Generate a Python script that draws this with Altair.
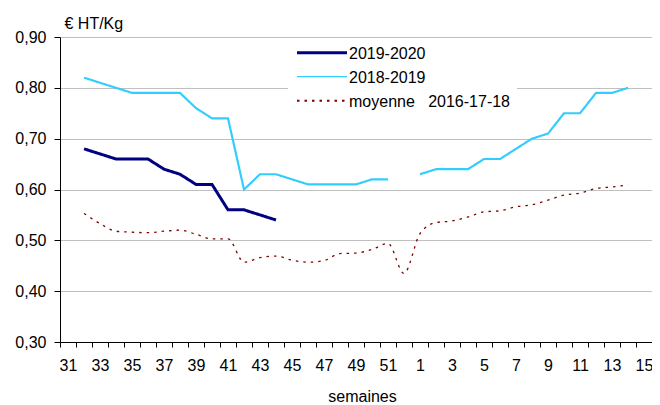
import altair as alt
import pandas as pd

weeks = [str(w) for w in range(31, 53)] + [str(w) for w in range(1, 16)]
labelled_weeks = [str(w) for w in range(31, 53, 2)] + [str(w) for w in range(1, 16, 2)]

series_names = ["2019-2020", "2018-2019", "moyenne\u00a0\u00a0\u00a02016-17-18"]
series_colors = ["#000080", "#33ccff", "#800000"]
series_widths = [3, 1.3, 2]
series_dashes = [[1, 0], [1, 0], [2.5, 5]]

s2019_2020 = [None, 0.68, 0.67, 0.66, 0.66, 0.66, 0.64, 0.63, 0.61, 0.61, 0.56, 0.56, 0.55, 0.54] + [None] * 23
s2018_2019 = [None, 0.82, 0.81, 0.80, 0.79, 0.79, 0.79, 0.79, 0.76, 0.74, 0.74,
              0.60, 0.63, 0.63, 0.62, 0.61, 0.61, 0.61, 0.61, 0.62, 0.62, None,
              0.63, 0.64, 0.64, 0.64, 0.66, 0.66, 0.68, 0.70, 0.71, 0.75, 0.75, 0.79, 0.79, 0.80, None]
moyenne = [None, 0.553, 0.533, 0.518, 0.516, 0.515, 0.518, 0.520, 0.512, 0.503, 0.503,
           0.457, 0.466, 0.469, 0.461, 0.457, 0.460, 0.474, 0.475, 0.482, 0.494, 0.435,
           0.513, 0.535, 0.538, 0.546, 0.556, 0.558, 0.566, 0.570, 0.579, 0.589, 0.593, 0.602, 0.605, 0.609, None]

y_ticks = [0.3, 0.4, 0.5, 0.6, 0.7, 0.8, 0.9]

rows = []
for name, vals in zip(series_names, [s2019_2020, s2018_2019, moyenne]):
    for w, v in zip(weeks, vals):
        rows.append({"semaine": w, "serie": name, "prix": v})
df = pd.DataFrame(rows)

FONT = "Liberation Sans"
lab_list = ",".join("'" + w + "'" for w in labelled_weeks)

base = alt.Chart(df).encode(
    x=alt.X("semaine:O", sort=weeks,
            scale=alt.Scale(type="band", domain=weeks, paddingInner=0, paddingOuter=0),
            axis=alt.Axis(title="semaines", labelExpr=f"indexof([{lab_list}], datum.label) >= 0 ? datum.label : ''",
                          tickBand="extent", labelAngle=0, labelOverlap=False, tickSize=5,
                          labelPadding=10, labelFontSize=16, titleFontSize=16, titleFontWeight="normal",
                          titleX=302, titleY=59, titleBaseline="alphabetic",
                          titleAlign="center", grid=False)),
    y=alt.Y("prix:Q", scale=alt.Scale(domain=[0.3, 0.9], nice=False, zero=False),
            axis=alt.Axis(values=y_ticks, labelExpr="replace(format(datum.value, '.2f'), '.', ',')",
                          title="€ HT/Kg", titleAngle=0, titleX=4, titleY=-9, titleAlign="left",
                          titleBaseline="alphabetic", titleFontSize=16, titleFontWeight="normal",
                          tickSize=6, labelPadding=8, labelFontSize=16, grid=True,
                          gridColor="#c0c0c0", gridWidth=1)),
    color=alt.Color("serie:N", scale=alt.Scale(domain=series_names, range=series_colors), legend=None),
    strokeDash=alt.StrokeDash("serie:N", scale=alt.Scale(domain=series_names, range=series_dashes), legend=None),
    strokeWidth=alt.StrokeWidth("serie:N", scale=alt.Scale(domain=series_names, range=series_widths), legend=None),
)

straight = base.mark_line(invalid="break-paths-show-domains").transform_filter(
    alt.FieldOneOfPredicate(field="serie", oneOf=series_names[:2]))
smooth = base.mark_line(interpolate="monotone", invalid="break-paths-show-domains").transform_filter(
    alt.FieldEqualPredicate(field="serie", equal=series_names[2]))

# legend drawn by hand (box, sample lines, labels), one datum per mark
legend_layers = [
    alt.Chart(pd.DataFrame({"k": [0]})).mark_rect(fill="white", stroke=None).encode(
        x=alt.value(228), x2=alt.value(457), y=alt.value(3), y2=alt.value(75))
]
for i, (name, col, wd, dash) in enumerate(zip(series_names, series_colors, series_widths, series_dashes)):
    yy = 15.7 + 24 * i
    one = pd.DataFrame({"serie": [name]})
    legend_layers.append(
        alt.Chart(one).mark_rule(color=col, strokeWidth=wd, strokeDash=dash).encode(
            x=alt.value(237), x2=alt.value(287), y=alt.value(yy))
    )
    legend_layers.append(
        alt.Chart(one).mark_text(align="left", baseline="middle", fontSize=16,
                                 fontWeight="normal", font=FONT, color="black").encode(
            text="serie:N", x=alt.value(289), y=alt.value(yy + 1))
    )

chart = alt.layer(straight, smooth, *legend_layers).properties(
    width=592, height=305,
    autosize=alt.AutoSizeParams(type="none"),
    padding={"left": 52, "top": 29, "right": 0, "bottom": 63},
).configure(font=FONT).configure_view(stroke=None).configure_axis(
    domainColor="black", tickColor="black", labelColor="black", titleColor="black",
    labelFont=FONT, titleFont=FONT,
)

chart.save("out.html", embed_options={"renderer": "svg", "actions": False})
